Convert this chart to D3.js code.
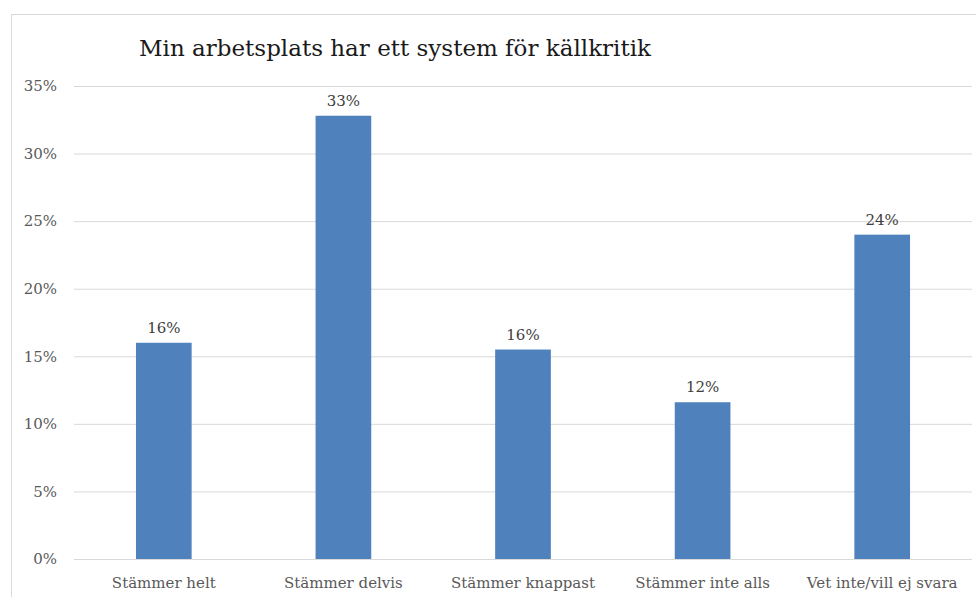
<!DOCTYPE html>
<html>
<head>
<meta charset="utf-8">
<script src="https://cdn.jsdelivr.net/npm/d3@7"></script>
<style>
  body { margin: 0; background: #fff; }
  svg { display: block; font-family: 'DejaVu Serif', 'Liberation Serif', serif; }
</style>
</head>
<body>
<svg></svg>
<script>
var categories = ['Stämmer helt', 'Stämmer delvis', 'Stämmer knappast', 'Stämmer inte alls', 'Vet inte/vill ej svara'];
var values = [0.160, 0.328, 0.155, 0.116, 0.240];
var labels = ['16%', '33%', '16%', '12%', '24%'];
var yTicks = [0, 0.05, 0.10, 0.15, 0.20, 0.25, 0.30, 0.35];
var title = 'Min arbetsplats har ett system för källkritik';

var W = 976, H = 597;
var L = 74, R = 972, T = 86, B = 559;

var svg = d3.select('svg')
    .attr('width', W)
    .attr('height', H);

// chart frame
svg.append('rect')
    .attr('x', 11.5).attr('y', 14.5)
    .attr('width', W).attr('height', H)
    .attr('fill', 'none')
    .attr('stroke', '#d9d9d9');

var x = d3.scaleBand()
    .domain(categories)
    .range([L, R])
    .paddingInner(0.69)
    .paddingOuter(0.345);

var y = d3.scaleLinear()
    .domain([0, 0.35])
    .range([B, T]);

var yAxis = d3.axisLeft(y)
    .tickValues(yTicks)
    .tickFormat(d3.format('.0%'))
    .tickSize(-(R - L))
    .tickPadding(17);

var gy = svg.append('g')
    .attr('transform', 'translate(' + L + ',0)')
    .call(yAxis);
gy.select('.domain').remove();
gy.selectAll('.tick line').attr('stroke', '#d9d9d9');
gy.selectAll('.tick text')
    .attr('fill', '#595959')
    .style('font-size', '15px')
    .style('font-family', "'DejaVu Serif', serif");

svg.append('g')
    .selectAll('rect')
    .data(values)
    .enter()
    .append('rect')
    .attr('x', function (d, i) { return x(categories[i]); })
    .attr('y', function (d) { return y(d); })
    .attr('width', x.bandwidth())
    .attr('height', function (d) { return y(0) - y(d); })
    .attr('fill', '#4f81bd');

svg.append('g')
    .selectAll('text')
    .data(values)
    .enter()
    .append('text')
    .attr('x', function (d, i) { return x(categories[i]) + x.bandwidth() / 2; })
    .attr('y', function (d) { return y(d) - 10; })
    .attr('text-anchor', 'middle')
    .attr('fill', '#404040')
    .style('font-size', '15px')
    .text(function (d, i) { return labels[i]; });

svg.append('g')
    .selectAll('text')
    .data(categories)
    .enter()
    .append('text')
    .attr('x', function (d) { return x(d) + x.bandwidth() / 2; })
    .attr('y', 588)
    .attr('text-anchor', 'middle')
    .attr('fill', '#595959')
    .style('font-size', '15px')
    .text(function (d) { return d; });

svg.append('text')
    .attr('x', 395)
    .attr('y', 56)
    .attr('text-anchor', 'middle')
    .attr('fill', '#1a1a1a')
    .style('font-size', '23px')
    .text(title);
</script>
</body>
</html>
